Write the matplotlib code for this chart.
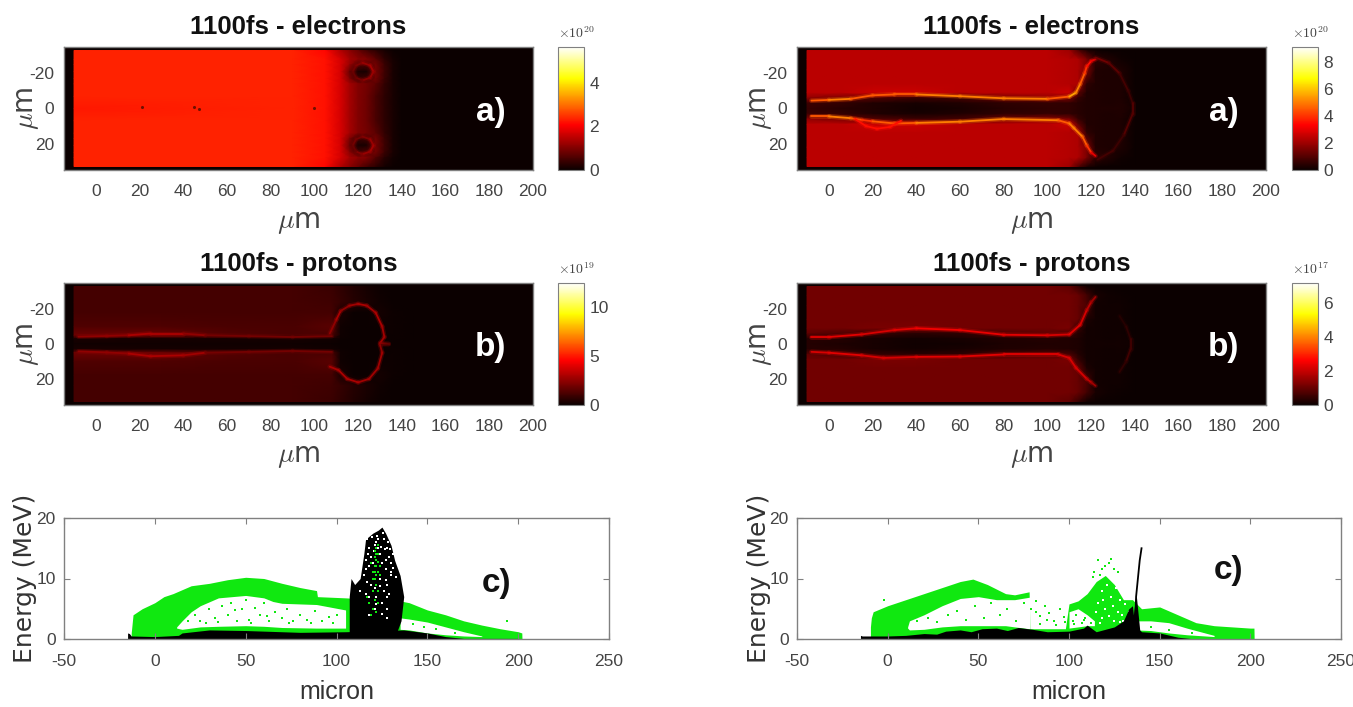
import numpy as np
import matplotlib
matplotlib.use('Agg')
import matplotlib.pyplot as plt
from matplotlib.collections import LineCollection
from matplotlib.colors import Normalize

plt.rcParams['axes.unicode_minus'] = False
plt.rcParams['mathtext.fontset'] = 'cm'

W, H = 1353, 707
GREY = '#444444'
NARROW = ['Liberation Sans', 'DejaVu Sans']

##########################################################
# Left column, electrons
##########################################################
ea_x = [-10, 90, 105, 112, 116, 120, 124, 128, 132, 136, 140, 146]
ea_y = [-33, -28, -25, -21, -17, -14, -7, 0, 7, 14, 17, 21, 25, 28, 33]
ea_c = [
    [2.35, 2.35, 2.1, 1.4, 1.1, 0.8, 0.5, 0.3, 0.12, 0.04, 0, 0],
    [2.35, 2.35, 2.2, 1.7, 1.3, 1.1, 1.0, 0.7, 0.3, 0.1, 0.02, 0],
    [2.35, 2.35, 2.2, 1.7, 1.2, 0.6, 0.6, 0.9, 0.4, 0.12, 0.02, 0],
    [2.35, 2.35, 2.2, 1.7, 0.8, 0.15, 0.12, 0.9, 0.45, 0.12, 0.02, 0],
    [2.35, 2.35, 2.2, 1.7, 1.0, 0.4, 0.5, 0.9, 0.4, 0.12, 0.02, 0],
    [2.35, 2.35, 2.2, 1.7, 1.3, 1.0, 0.9, 0.7, 0.35, 0.12, 0.02, 0],
    [2.35, 2.35, 2.2, 1.7, 1.3, 1.0, 0.85, 0.55, 0.3, 0.12, 0.02, 0],
    [2.25, 2.35, 2.2, 1.7, 1.3, 1.0, 0.85, 0.55, 0.3, 0.12, 0.02, 0],
    [2.35, 2.35, 2.2, 1.7, 1.3, 1.0, 0.85, 0.55, 0.3, 0.12, 0.02, 0],
    [2.35, 2.35, 2.2, 1.7, 1.3, 1.0, 0.9, 0.7, 0.35, 0.12, 0.02, 0],
    [2.35, 2.35, 2.2, 1.7, 1.0, 0.4, 0.5, 0.9, 0.4, 0.12, 0.02, 0],
    [2.35, 2.35, 2.2, 1.7, 0.8, 0.12, 0.15, 0.9, 0.45, 0.12, 0.02, 0],
    [2.35, 2.35, 2.2, 1.7, 1.1, 0.5, 0.6, 0.9, 0.4, 0.12, 0.02, 0],
    [2.35, 2.35, 2.2, 1.7, 1.3, 1.1, 1.0, 0.6, 0.25, 0.08, 0.02, 0],
    [2.35, 2.35, 2.1, 1.4, 1.1, 0.8, 0.5, 0.3, 0.1, 0.04, 0, 0],
]
ea_spot_x = [21, 45, 47, 100]
ea_spot_y = [-1, -1, 0.5, -0.5]
ea_ring1_x = [117.5, 119, 122, 125.5, 127, 125.5, 122, 119, 117.5]
ea_ring1_y = [-21, -24.5, -26, -24.5, -21, -17.5, -16, -17.5, -21]
ea_ring1_v = [0.9, 1.0, 1.2, 1.3, 1.2, 1.1, 0.9, 0.8, 0.9]
ea_ring2_x = [117.5, 119, 122, 125.5, 127, 125.5, 122, 119, 117.5]
ea_ring2_y = [21, 17.5, 16, 17.5, 21, 24.5, 26, 24.5, 21]
ea_ring2_v = [0.9, 0.9, 1.0, 1.2, 1.3, 1.2, 1.0, 0.8, 0.9]

##########################################################
# Right column, electrons and protons share the mesh
##########################################################
eb_x = [-10, 5, 20, 40, 60, 80, 100, 110, 114, 118, 122, 128, 134, 140]
eb_y = [-33, -28, -22, -14, -9, -6, -3, 0, 3, 6, 9, 14, 22, 28, 33]
eb_c = [
    [2.4, 2.4, 2.4, 2.4, 2.4, 2.4, 2.4, 2.0, 1.0, 0.3, 0.1, 0, 0, 0],
    [2.4, 2.4, 2.4, 2.4, 2.4, 2.4, 2.4, 2.3, 2.2, 1.5, 0.5, 0.3, 0.1, 0],
    [2.4, 2.4, 2.4, 2.4, 2.4, 2.4, 2.4, 2.3, 2.2, 1.6, 0.3, 0.25, 0.25, 0.02],
    [2.4, 2.4, 2.4, 2.4, 2.4, 2.4, 2.4, 2.3, 2.2, 0.5, 0.3, 0.25, 0.25, 0.03],
    [2.4, 2.4, 2.6, 2.6, 2.4, 2.4, 2.4, 2.6, 1.2, 0.3, 0.3, 0.25, 0.25, 0.05],
    [1.8, 1.5, 1.0, 0.7, 0.8, 1.4, 1.8, 1.5, 0.6, 0.3, 0.3, 0.25, 0.25, 0.05],
    [0.7, 0.6, 0.3, 0.2, 0.3, 0.5, 0.6, 0.5, 0.4, 0.3, 0.3, 0.25, 0.3, 0.1],
    [0.6, 0.4, 0.3, 0.12, 0.2, 0.4, 0.5, 0.5, 0.4, 0.3, 0.3, 0.3, 0.3, 0.15],
    [0.7, 0.6, 0.3, 0.2, 0.3, 0.5, 0.6, 0.5, 0.4, 0.3, 0.3, 0.25, 0.3, 0.1],
    [1.8, 1.5, 1.0, 0.7, 0.8, 1.4, 1.8, 1.5, 0.6, 0.3, 0.3, 0.25, 0.25, 0.05],
    [2.4, 2.4, 2.6, 2.6, 2.4, 2.4, 2.4, 2.6, 1.2, 0.3, 0.3, 0.25, 0.25, 0.05],
    [2.4, 2.4, 2.4, 2.4, 2.4, 2.4, 2.4, 2.3, 2.2, 0.5, 0.3, 0.25, 0.25, 0.03],
    [2.4, 2.4, 2.4, 2.4, 2.4, 2.4, 2.4, 2.3, 2.2, 1.6, 0.3, 0.25, 0.25, 0.02],
    [2.4, 2.4, 2.4, 2.4, 2.4, 2.4, 2.4, 2.3, 2.2, 1.5, 0.5, 0.3, 0.1, 0],
    [2.4, 2.4, 2.4, 2.4, 2.4, 2.4, 2.4, 2.0, 1.0, 0.3, 0.1, 0, 0, 0],
]
eb_top_x = [-8, 0, 10, 20, 30, 40, 60, 80, 100, 110, 113, 115, 117, 118, 120, 122]
eb_top_y = [-4.5, -4.9, -5.5, -7.5, -8, -8, -7, -5.8, -5.5, -6.8, -9, -14, -20, -24, -27, -28]
eb_top_v = [4.5, 5, 4.5, 4.5, 4.5, 5, 5, 5, 4.5, 5.5, 5, 4.5, 4, 3.5, 3, 2]
eb_bot_x = [-8, 0, 10, 15, 20, 30, 40, 60, 80, 105, 110, 112, 116, 118, 120, 122]
eb_bot_y = [4.5, 4.5, 5.5, 6.5, 7.3, 8.5, 8.2, 7.5, 6, 6.7, 8.5, 11, 16, 21, 25, 27]
eb_bot_v = [4.5, 5, 4.5, 4, 4.5, 4.5, 5, 5, 5, 4.5, 5, 5, 4.5, 4, 3, 2]
eb_loop_x = [12, 17, 22, 28, 33]
eb_loop_y = [6, 10, 11.5, 10.5, 7]
eb_loop_v = [3.5, 3.5, 3.5, 3.5, 3.5]
eb_arc_x = [122, 128, 133, 137, 139, 139, 135, 130, 123]
eb_arc_y = [-29, -26, -20, -10, -3, 3, 15, 24, 29]
eb_arc_v = [1.4, 1.1, 0.8, 0.7, 1.0, 1.0, 0.7, 0.8, 1.3]

pa_x = [-10, 30, 60, 90, 108, 112, 118, 124, 130, 136, 145]
pa_y = [-33, -24, -18, -10, -5, -3, 0, 3, 5, 10, 18, 24, 33]
pa_c = [
    [1.1, 1.1, 1.1, 1.1, 0.9, 0.7, 0.4, 0.2, 0.05, 0, 0],
    [1.1, 1.1, 1.1, 1.1, 1.0, 0.8, 0.5, 0.3, 0.1, 0.03, 0],
    [1.1, 1.1, 1.1, 1.1, 1.1, 0.3, 0.03, 0.03, 0.2, 0.05, 0],
    [1.3, 1.3, 1.2, 1.2, 1.5, 0.1, 0.02, 0.02, 0.05, 0.08, 0],
    [1.9, 1.9, 1.4, 1.2, 1.2, 0.1, 0.02, 0.02, 0.02, 0.05, 0],
    [0.3, 0.2, 0.2, 0.2, 0.15, 0.05, 0.02, 0.02, 0.02, 0.05, 0],
    [0.1, 0.1, 0.1, 0.1, 0.05, 0.03, 0.02, 0.02, 0.05, 0.03, 0],
    [0.3, 0.2, 0.2, 0.2, 0.15, 0.05, 0.02, 0.02, 0.02, 0.05, 0],
    [1.9, 1.9, 1.4, 1.2, 1.2, 0.1, 0.02, 0.02, 0.02, 0.05, 0],
    [1.3, 1.3, 1.2, 1.2, 1.5, 0.1, 0.02, 0.02, 0.05, 0.08, 0],
    [1.1, 1.1, 1.1, 1.1, 1.1, 0.3, 0.03, 0.03, 0.2, 0.05, 0],
    [1.1, 1.1, 1.1, 1.1, 1.0, 0.8, 0.5, 0.3, 0.1, 0.03, 0],
    [1.1, 1.1, 1.1, 1.1, 0.9, 0.7, 0.4, 0.2, 0.05, 0, 0],
]
pa_rim_x = [107, 110, 112, 116, 120, 124, 128, 131, 132, 130, 134, 130, 131, 129, 125, 120, 115, 111, 107]
pa_rim_y = [-6, -14, -19, -22, -23, -22, -18, -10, -4, -0.5, 0, 0.5, 5, 14, 20, 22, 20, 15, 13]
pa_rim_v = [2.5, 3, 2.5, 2.8, 3, 2.8, 3, 2.8, 2.8, 2.5, 1.5, 2.5, 2.8, 2.8, 2.8, 3, 3, 3, 3.5]
pa_top_x = [-8, 5, 15, 25, 40, 50, 70, 90, 108]
pa_top_y = [-4.2, -4.6, -5, -6, -6, -5, -4.5, -4, -4.5]
pa_top_v = [2.5, 2.5, 3, 3, 2.5, 2, 2, 2, 2.2]
pa_bot_x = [-8, 5, 15, 25, 40, 50, 70, 90, 108]
pa_bot_y = [4.2, 4.8, 5.5, 7, 6.5, 5, 4.5, 4, 4.5]
pa_bot_v = [2.5, 2.5, 3, 3, 2.8, 2, 2, 2, 2.2]

pb_c = [
    [1.1, 1.1, 1.1, 1.1, 1.1, 1.1, 1.1, 0.9, 0.5, 0.1, 0.03, 0, 0, 0],
    [1.1, 1.1, 1.1, 1.1, 1.1, 1.1, 1.1, 1.1, 1.0, 0.6, 0.15, 0.08, 0.03, 0],
    [1.1, 1.1, 1.1, 1.1, 1.1, 1.1, 1.1, 1.1, 1.0, 0.7, 0.1, 0.08, 0.08, 0.01],
    [1.1, 1.1, 1.1, 1.1, 1.1, 1.1, 1.1, 1.1, 1.0, 0.2, 0.1, 0.08, 0.08, 0.01],
    [1.1, 1.1, 1.2, 1.2, 1.1, 1.1, 1.1, 1.2, 0.5, 0.1, 0.1, 0.08, 0.08, 0.02],
    [0.9, 0.7, 0.5, 0.35, 0.4, 0.7, 0.9, 0.7, 0.3, 0.1, 0.1, 0.08, 0.08, 0.02],
    [0.3, 0.3, 0.15, 0.1, 0.15, 0.25, 0.3, 0.25, 0.2, 0.1, 0.1, 0.08, 0.1, 0.03],
    [0.3, 0.2, 0.15, 0.06, 0.1, 0.2, 0.25, 0.25, 0.2, 0.1, 0.1, 0.1, 0.1, 0.06],
    [0.3, 0.3, 0.15, 0.1, 0.15, 0.25, 0.3, 0.25, 0.2, 0.1, 0.1, 0.08, 0.1, 0.03],
    [0.9, 0.7, 0.5, 0.35, 0.4, 0.7, 0.9, 0.7, 0.3, 0.1, 0.1, 0.08, 0.08, 0.02],
    [1.1, 1.1, 1.2, 1.2, 1.1, 1.1, 1.1, 1.2, 0.5, 0.1, 0.1, 0.08, 0.08, 0.02],
    [1.1, 1.1, 1.1, 1.1, 1.1, 1.1, 1.1, 1.1, 1.0, 0.2, 0.1, 0.08, 0.08, 0.01],
    [1.1, 1.1, 1.1, 1.1, 1.1, 1.1, 1.1, 1.1, 1.0, 0.7, 0.1, 0.08, 0.08, 0.01],
    [1.1, 1.1, 1.1, 1.1, 1.1, 1.1, 1.1, 1.1, 1.0, 0.6, 0.15, 0.08, 0.03, 0],
    [1.1, 1.1, 1.1, 1.1, 1.1, 1.1, 1.1, 0.9, 0.5, 0.1, 0.03, 0, 0, 0],
]
pb_top_x = [-8, 0, 15, 30, 40, 60, 80, 100, 110, 115, 118, 120, 122]
pb_top_y = [-4, -4, -5.5, -8, -9, -8, -5.3, -5, -5.5, -11, -19.5, -24, -27]
pb_top_v = [2.3, 2.3, 2.2, 2.3, 2.5, 2.4, 2.3, 2.2, 2.3, 2.2, 1.9, 1.6, 1]
pb_bot_x = [-8, 0, 15, 25, 40, 60, 80, 105, 110, 113, 118, 120, 122]
pb_bot_y = [4.5, 5, 6.5, 8, 7.4, 7.2, 6, 6, 8, 13.6, 20, 22, 24]
pb_bot_v = [2.2, 2.3, 2.2, 2.2, 2.3, 2.3, 2.3, 2.2, 2.2, 2.2, 1.9, 1.6, 1]
pb_arc_x = [133, 136, 138, 138, 136, 133]
pb_arc_y = [-16, -10, -3, 3, 10, 16]
pb_arc_v = [0.3, 0.4, 0.6, 0.6, 0.4, 0.3]

##########################################################
# Energy panels
##########################################################
gl_x = [-13, -12, -7, 0, 5, 10, 20, 30, 40, 50, 60, 70, 80, 89, 89.5, 105, 135, 140, 150, 160, 170, 180, 190, 200, 202, 202.1]
gl_top = [1, 4, 5, 6, 7, 7.5, 8.8, 9.2, 9.8, 10.2, 10, 9.2, 8.5, 8, 7, 6.8, 6.3, 6, 4.8, 4, 3, 2.3, 1.7, 1.2, 1, 0]
gl_hole_x = [12, 15, 20, 25, 35, 50, 60, 65, 70, 89, 105]
gl_hole_top = [2, 3, 4.5, 5.5, 6.8, 7.2, 6.8, 6.2, 5.9, 5.7, 4.8]
gl_hole_bot = [1.8, 1.6, 1.8, 2, 2.1, 2.2, 2.1, 2, 1.9, 1.8, 1.8]
gl_hole2_x = [135, 140, 150, 160, 170, 180]
gl_hole2_top = [3.5, 3.3, 2.8, 2, 1.2, 0.5]
gl_hole2_bot = [1.6, 1.5, 1, 0.7, 0.5, 0.4]
gl_speck_x = [18, 22, 25, 30, 33, 37, 40, 42, 45, 48, 50, 52, 55, 58, 60, 63, 66, 70, 73, 76, 80, 84, 88, 92, 96, 100, 28, 35, 44, 53, 62, 74, 86, 98, 142, 148, 155, 165, 194]
gl_speck_y = [3, 4, 3, 5, 3.5, 5.5, 4, 6, 3, 5, 6.5, 3.2, 5.2, 4, 6, 3, 4.5, 3.5, 5, 3, 4, 3.2, 4.6, 3, 3.6, 4, 2.6, 2.8, 4.8, 2.7, 3.8, 2.6, 2.7, 2.6, 2.5, 2, 1.6, 1, 2.9]
bl_x = [-15, -14, -13, 0, 13, 15, 30, 50, 80, 105, 137, 150, 160, 170, 200]
bl_top = [1, 0.9, 0.5, 0.4, 0.6, 1, 1.5, 1.4, 1.1, 1.2, 1.5, 1, 0.4, 0.1, 0.1]
tw_x = [107, 108, 110, 113, 115, 116, 120, 123, 125, 127, 130, 132, 135, 137, 135.5, 133]
tw_top = [7, 10, 9, 10, 14, 16.5, 17.5, 18, 18.5, 17.5, 15.5, 13, 10.5, 7, 3, 1]
tw_white_x = [117, 118, 119, 121, 123, 124, 126, 128, 129, 118, 120, 122, 125, 127, 130, 131, 119, 124, 128, 126, 128, 116, 122, 130, 125, 121, 118, 128,
              117.5, 119.5, 120.5, 122.5, 124.5, 125.5, 127.5, 128.5, 116.5, 120, 123, 126.5, 129.5, 131, 115, 117, 121, 124, 129, 113, 116, 127, 130, 118, 125, 133, 122, 128]
tw_white_y = [16.5, 15, 13.5, 15.5, 16.5, 14, 16.5, 15, 13.5, 12, 11, 16, 12.5, 11.5, 12.5, 14, 9, 10, 9, 8, 7, 11.5, 7, 10.5, 6, 5, 7, 5,
              14, 16.8, 14.5, 17, 15.2, 17.5, 13, 16, 13, 12.5, 15, 14.8, 14.8, 11.8, 10.5, 9.5, 8.5, 8.8, 7.5, 8, 7.5, 9.8, 11, 4, 4.2, 10.3, 5.8, 3.5]
tw_green_x = [119, 120, 121, 122, 122, 123, 123, 124, 121, 122, 120, 123, 118, 121, 120, 119, 122, 117, 123,
              121, 122, 123, 122, 121, 123, 120, 124, 122, 121]
tw_green_y = [12.5, 11, 13.5, 15, 13, 14, 11, 12, 10, 9, 8, 8, 6, 6.5, 5, 4, 4.5, 7, 6,
              14.5, 14, 15.5, 12, 12, 12.8, 10, 10.5, 10.5, 11]

gr_x = [-9.5, -9, -8, 0, 10, 20, 30, 40, 47, 55, 65, 70, 78, 78.5, 98, 100, 105, 110, 115, 120, 125, 130, 135, 140, 150, 160, 170, 180, 200, 202, 202.1]
gr_top = [2, 3.5, 4.5, 5.5, 6.5, 7.5, 8.5, 9.5, 9.9, 9, 7.5, 7.3, 7.8, 1.7, 1.7, 5.8, 6.3, 7.5, 9.5, 10.5, 9, 6.5, 6.5, 5, 5.3, 4, 2.7, 2.2, 1.8, 1.8, 0]
gr_hole_x = [11, 12, 20, 30, 40, 50, 60, 65, 70, 78, 78.5]
gr_hole_top = [2, 3, 4, 5.5, 6.7, 7, 6.5, 6.5, 6.5, 6.9, 6.9]
gr_hole_bot = [1.8, 1.5, 1.6, 2, 2.2, 2.2, 2.2, 2.2, 2, 1.7, 1.7]
gr_hole2_x = [137, 145, 155, 165, 175, 180]
gr_hole2_top = [3, 3, 2.7, 1.8, 1, 0.6]
gr_hole2_bot = [1.5, 1.4, 1, 0.7, 0.5, 0.4]
gr_hole3_x = [100, 105, 110, 114]
gr_hole3_top = [4.5, 5, 4, 3]
gr_hole3_bot = [1.8, 2, 2.2, 2.2]
gr_speck_x = [16, 22, 27, 33, 38, 43, 48, 53, 57, 62, 66, 71, 75, 79, 82, 84, 87, 89, 92, 95, 97, 84, 88, 93, 98, 82, 114, 116, 118, 120, 122, 123, 125, 127, 113, 117, -2, 145, 155, 168, 102, 104, 107, 109, 112, 103, 108]
gr_speck_y = [3, 3.5, 2.8, 4, 4.6, 3.2, 5.5, 3.5, 6, 4, 5, 3, 6, 5, 4.5, 3.8, 5.5, 4.3, 3, 5, 3.6, 2.5, 3.2, 2.3, 2.8, 6.3, 11, 13, 11.5, 12, 12.5, 13.2, 11.5, 11, 10.2, 10.5, 6.5, 2, 1.5, 1, 3, 4, 2.7, 3.5, 2.6, 2.4, 3.1]
gr_white_x = [118, 121, 123, 126, 128, 116, 119, 124, 127, 131, 129, 115, 122, 125, 118, 133, 120, 128, 130, 117]
gr_white_y = [8, 9, 7, 8.5, 6.5, 6, 6.5, 5.5, 4.5, 5.8, 4, 4.5, 3.8, 3, 3.5, 4.5, 5, 2.8, 3, 2.6]
br_x = [-15, -14, 0, 10, 20, 27, 32, 40, 46, 52, 60, 66, 72, 80, 88, 100, 108, 110, 115, 125, 130, 133, 135, 135.5, 137, 139, 140, 150, 160, 168]
br_top = [0.6, 0.5, 0.5, 0.6, 0.9, 0.8, 1.3, 1.5, 1.2, 1.7, 1.8, 1.4, 1.9, 1.6, 1.2, 1.3, 1.8, 2.3, 1.2, 2, 3, 5, 5.5, 4, 7.5, 1.5, 1.2, 1, 0.3, 0.05]
spike_x = [136.5, 137, 138, 139, 140]
spike_y = [3, 7, 10, 13, 15]

x_ticks = [0, 20, 40, 60, 80, 100, 120, 140, 160, 180, 200]
y_ticks = [-20, 0, 20]
e_ticks = [-50, 0, 50, 100, 150, 200, 250]
en_ticks = [0, 10, 20]


def box(left, top, right, bottom):
    return [left / W, 1 - bottom / H, (right - left) / W, (bottom - top) / H]


def trace(ax, x, y, v, norm, lw=1.3):
    pts = np.column_stack([x, y]).reshape(-1, 1, 2)
    segs = np.concatenate([pts[:-1], pts[1:]], axis=1)
    for width, alpha in [(lw * 2.6, 0.3), (lw, 1)]:
        lc = LineCollection(segs, cmap='hot', norm=norm, linewidths=width, capstyle='round', alpha=alpha)
        lc.set_array(np.array(v[:-1]))
        ax.add_collection(lc)


def style(ax):
    for sp in ax.spines.values():
        sp.set_color('#808080')
        sp.set_linewidth(1)


def heat(pos, cpos, xn, yn, c, vmax, cticks, exp, title, tag, lines):
    ax = fig.add_axes(box(*pos))
    ax.set_facecolor(plt.cm.hot(0))
    norm = Normalize(0, vmax)
    mesh = ax.pcolormesh(xn, yn, np.array(c), shading='gouraud', cmap='hot', norm=norm)
    for x, y, v in lines:
        trace(ax, x, y, v, norm)
    ax.set_xlim(-14.6, 200)
    ax.set_ylim(35, -35)
    ax.set_xticks(x_ticks)
    ax.set_yticks(y_ticks)
    ax.tick_params(length=0, labelsize=12.5, labelcolor=GREY)
    ax.tick_params(axis='x', pad=10)
    ax.tick_params(axis='y', pad=7)
    for lab in ax.get_xticklabels() + ax.get_yticklabels():
        lab.set_family(NARROW)
    style(ax)
    ax.set_title(title, fontsize=18.5, fontweight='bold', family=NARROW, color='#111111', pad=9)
    ax.set_xlabel(r'$\mu$m', fontsize=20, color=GREY, va='center')
    ax.xaxis.set_label_coords(0.5, -0.42)
    ax.set_ylabel(r'$\mu$m', fontsize=20, color=GREY, va='center')
    ax.yaxis.set_label_coords(-0.078, 0.5)
    ax.text(180.5, 2, tag, color='white', fontsize=24, fontweight='bold', family=NARROW,
            ha='center', va='center')
    cax = fig.add_axes(box(*cpos))
    cb = fig.colorbar(mesh, cax=cax)
    cb.set_ticks(cticks)
    cax.tick_params(length=0, labelsize=12.5, labelcolor=GREY, pad=4)
    for lab in cax.get_yticklabels():
        lab.set_family(NARROW)
    cb.outline.set_edgecolor('#808080')
    cax.text(0, 1.05, r'$\times 10^{%d}$' % exp, transform=cax.transAxes, fontsize=10,
             color=GREY, va='bottom')
    return ax


def energy(pos, tag_xy, lab_x):
    ax = fig.add_axes(box(*pos))
    ax.set_xlim(-50, 250)
    ax.set_ylim(0, 20)
    ax.set_xticks(e_ticks)
    ax.set_yticks(en_ticks)
    ax.tick_params(direction='in', length=4, color='#808080', labelsize=12.5, labelcolor=GREY,
                   top=True, right=True)
    ax.tick_params(axis='x', pad=11)
    ax.tick_params(axis='y', pad=6)
    for lab in ax.get_xticklabels() + ax.get_yticklabels():
        lab.set_family(NARROW)
    style(ax)
    ax.set_xlabel('micron', fontsize=18, family=NARROW, color='#333333', va='center')
    ax.xaxis.set_label_coords(0.5, -0.44)
    ax.set_ylabel('Energy (MeV)', fontsize=18, color='#333333', va='center')
    ax.yaxis.set_label_coords(lab_x, 0.5)
    ax.text(tag_xy[0], tag_xy[1], 'c)', color='#111111', fontsize=24, fontweight='bold',
            family=NARROW, ha='center', va='center')
    return ax


fig = plt.figure(figsize=(W / 100, H / 100), dpi=100, facecolor='white')

# top left
ax = heat((64, 47, 533, 170), (558, 47, 584, 170), ea_x, ea_y, ea_c, 5.64, [0, 2, 4], 20,
          '1100fs - electrons', 'a)',
          [(ea_ring1_x, ea_ring1_y, ea_ring1_v), (ea_ring2_x, ea_ring2_y, ea_ring2_v)])
ax.scatter(ea_spot_x, ea_spot_y, s=5, c='#701000', linewidths=0)

# top right
heat((797, 47, 1266, 170), (1292, 47, 1318, 170), eb_x, eb_y, eb_c, 9.07, [0, 2, 4, 6, 8], 20,
     '1100fs - electrons', 'a)',
     [(eb_top_x, eb_top_y, eb_top_v), (eb_bot_x, eb_bot_y, eb_bot_v),
      (eb_loop_x, eb_loop_y, eb_loop_v), (eb_arc_x, eb_arc_y, eb_arc_v)])

# middle left
heat((64, 283, 533, 405), (558, 283, 584, 405), pa_x, pa_y, pa_c, 12.5, [0, 5, 10], 19,
     '1100fs - protons', 'b)',
     [(pa_rim_x, pa_rim_y, pa_rim_v), (pa_top_x, pa_top_y, pa_top_v), (pa_bot_x, pa_bot_y, pa_bot_v)])

# middle right
heat((797, 283, 1266, 405), (1292, 283, 1318, 405), eb_x, eb_y, pb_c, 7.15, [0, 2, 4, 6], 17,
     '1100fs - protons', 'b)',
     [(pb_top_x, pb_top_y, pb_top_v), (pb_bot_x, pb_bot_y, pb_bot_v), (pb_arc_x, pb_arc_y, pb_arc_v)])

GREEN = '#10e810'

# bottom left
ax = energy((64, 518, 609, 639), (188, 9.2), -0.072)
ax.fill_between(gl_x, 0, gl_top, color=GREEN, linewidth=0)
ax.fill_between(gl_hole_x, gl_hole_bot, gl_hole_top, color='white', linewidth=0)
ax.fill_between(gl_hole2_x, gl_hole2_bot, gl_hole2_top, color='white', linewidth=0)
ax.scatter(gl_speck_x, gl_speck_y, s=4, c=GREEN, marker='s', linewidths=0)
ax.fill_between(bl_x, 0, bl_top, color='black', linewidth=0)
ax.fill_between(tw_x, 0, tw_top, color='black', linewidth=0)
ax.scatter(tw_white_x, tw_white_y, s=3, c='white', marker='s', linewidths=0)
ax.scatter(tw_green_x, tw_green_y, s=4, c=GREEN, marker='s', linewidths=0)

# bottom right
ax = energy((797, 518, 1341, 639), (188, 11.3), -0.07)
ax.fill_between(gr_x, 0, gr_top, color=GREEN, linewidth=0)
ax.fill_between(gr_hole_x, gr_hole_bot, gr_hole_top, color='white', linewidth=0)
ax.fill_between(gr_hole2_x, gr_hole2_bot, gr_hole2_top, color='white', linewidth=0)
ax.fill_between(gr_hole3_x, gr_hole3_bot, gr_hole3_top, color='white', linewidth=0)
ax.scatter(gr_speck_x, gr_speck_y, s=4, c=GREEN, marker='s', linewidths=0)
ax.scatter(gr_white_x, gr_white_y, s=4, c='white', marker='s', linewidths=0)
ax.fill_between(br_x, 0, br_top, color='black', linewidth=0)
ax.plot(spike_x, spike_y, color='black', lw=1.3)

plt.savefig('out.png', dpi=100)
